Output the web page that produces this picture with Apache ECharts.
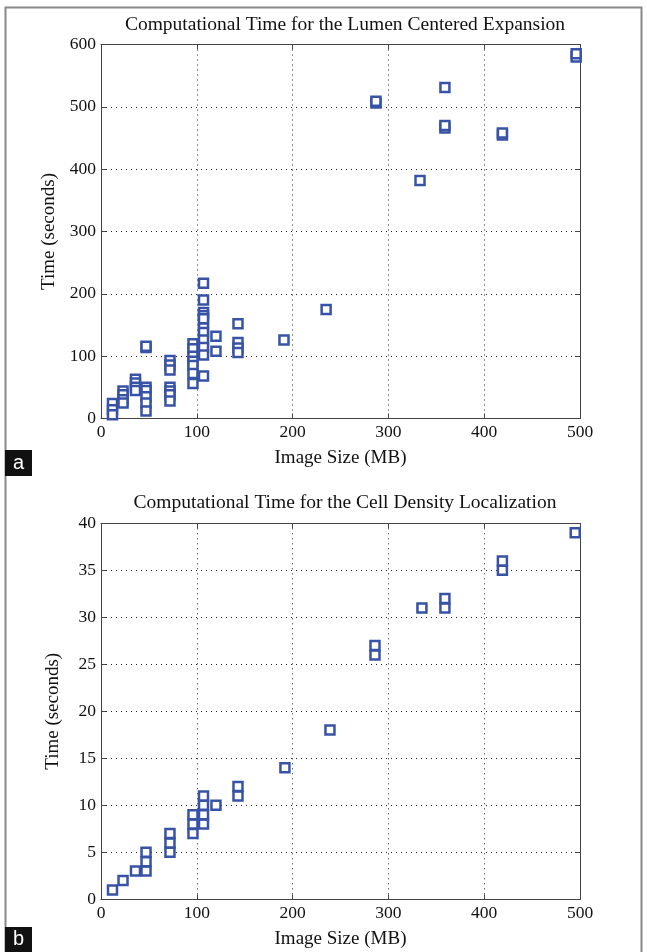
<!DOCTYPE html>
<html>
<head>
<meta charset="utf-8">
<script src="https://cdn.jsdelivr.net/npm/echarts@6/dist/echarts.min.js"></script>
<style>
html, body { margin: 0; padding: 0; background: #fff; }
#main { width: 647px; height: 952px; }
</style>
</head>
<body>
<div id="main"></div>
<script>
// panel a: lumen centered expansion
var lumenX = [12, 12, 12, 23, 23, 23, 23, 36, 36, 36, 36,
	47, 47, 47, 47, 47, 47, 47,
	72, 72, 72, 72, 72, 72, 72,
	96, 96, 96, 96, 96, 96, 96,
	107, 107, 107, 107, 107, 107, 107, 107, 107, 107, 107,
	120, 120, 143, 143, 143, 143, 191, 235,
	287, 287, 333, 359, 359, 359, 419, 419, 496, 496];
var lumenY = [24, 14, 6, 44, 38, 30, 25, 63, 57, 50, 45,
	114, 116, 50, 45, 35, 25, 12,
	93, 86, 78, 50, 44, 38, 28,
	120, 112, 100, 92, 85, 72, 56,
	217, 190, 170, 165, 160, 145, 138, 126, 114, 102, 68,
	132, 108, 152, 122, 113, 106, 126, 175,
	506, 509, 382, 531, 466, 470, 455, 458, 580, 585];

// panel b: cell density localization
var cellX = [12, 23, 36, 47, 47, 47, 72, 72, 72, 96, 96, 96,
	107, 107, 107, 107, 120, 143, 143, 192, 239,
	286, 286, 335, 359, 359, 419, 419, 495];
var cellY = [1, 2, 3, 3, 4, 5, 5, 6, 7, 7, 8, 9,
	8, 9, 10, 11, 10, 11, 12, 14, 18,
	26, 27, 31, 31, 32, 35, 36, 39];

var titles = ['Computational Time for the Lumen Centered Expansion',
	'Computational Time for the Cell Density Localization'];

function pairs(xs, ys) {
	var out = [];
	for (var i = 0; i < xs.length; i++) {
		out.push([xs[i], ys[i]]);
	}
	return out;
}

var font = 'Liberation Serif';
var blue = '#3853a6';
var dotted = { show: true, lineStyle: { color: '#222', type: [1, 4], width: 1 } };

function mainX(idx) {
	return {
		gridIndex: idx, type: 'value', min: 0, max: 500, interval: 100,
		name: 'Image Size (MB)', nameLocation: 'middle', nameGap: 30,
		nameTextStyle: { fontFamily: font, fontSize: 19, color: '#111' },
		axisLine: { show: true, onZero: false, lineStyle: { color: '#444', width: 1 } },
		axisTick: { show: true, inside: true, length: 5, lineStyle: { color: '#444' } },
		axisLabel: { fontFamily: font, fontSize: 17.5, color: '#111', margin: 5 },
		splitLine: dotted
	};
}
function mainY(idx, max, step) {
	return {
		gridIndex: idx, type: 'value', min: 0, max: max, interval: step,
		name: 'Time (seconds)', nameLocation: 'middle', nameGap: 38,
		nameTextStyle: { fontFamily: font, fontSize: 19, color: '#111' },
		axisLine: { show: true, onZero: false, lineStyle: { color: '#444', width: 1 } },
		axisTick: { show: true, inside: true, length: 5, lineStyle: { color: '#444' } },
		axisLabel: { fontFamily: font, fontSize: 17.5, color: '#111', margin: 5 },
		splitLine: dotted
	};
}
function boxX(idx) {
	return {
		gridIndex: idx, type: 'value', min: 0, max: 500, interval: 100, position: 'top',
		axisLine: { show: true, onZero: false, lineStyle: { color: '#444' } },
		axisTick: { show: true, inside: true, length: 5, lineStyle: { color: '#444' } },
		axisLabel: { show: false }, splitLine: { show: false }
	};
}
function boxY(idx, max, step) {
	return {
		gridIndex: idx, type: 'value', min: 0, max: max, interval: step, position: 'right',
		axisLine: { show: true, onZero: false, lineStyle: { color: '#444' } },
		axisTick: { show: true, inside: true, length: 5, lineStyle: { color: '#444' } },
		axisLabel: { show: false }, splitLine: { show: false }
	};
}

var markerStyle = { color: '#fff', borderColor: blue, borderWidth: 2.5, opacity: 1 };

var myChart = echarts.init(document.getElementById('main'));
myChart.setOption({
	animation: false,
	title: [{
		text: titles[0], left: 340, top: 10, textAlign: 'center',
		textStyle: { fontFamily: font, fontSize: 19.5, fontWeight: 'normal', color: '#111' }
	}, {
		text: titles[1], left: 340, top: 488, textAlign: 'center',
		textStyle: { fontFamily: font, fontSize: 19.5, fontWeight: 'normal', color: '#111' }
	}],
	grid: [
		{ left: 101, top: 44.5, width: 479, height: 374 },
		{ left: 101, top: 523.3, width: 479, height: 376 }
	],
	xAxis: [mainX(0), mainX(1), boxX(0), boxX(1)],
	yAxis: [mainY(0, 600, 100), mainY(1, 40, 5), boxY(0, 600, 100), boxY(1, 40, 5)],
	graphic: [
		{ type: 'rect', shape: { x: 5.5, y: 7.5, width: 636, height: 950 },
			style: { fill: 'none', stroke: '#888', lineWidth: 2 } },
		{ type: 'rect', shape: { x: 5, y: 450, width: 27, height: 26 }, style: { fill: '#111' } },
		{ type: 'text', x: 18.5, y: 463, style: { text: 'a', fill: '#fff', font: '20px Liberation Sans',
			textAlign: 'center', textVerticalAlign: 'middle' } },
		{ type: 'rect', shape: { x: 5, y: 927, width: 27, height: 25 }, style: { fill: '#111' } },
		{ type: 'text', x: 18.5, y: 939, style: { text: 'b', fill: '#fff', font: '20px Liberation Sans',
			textAlign: 'center', textVerticalAlign: 'middle' } }
	],
	series: [{
		type: 'scatter', xAxisIndex: 0, yAxisIndex: 0,
		symbol: 'rect', symbolSize: 9,
		itemStyle: markerStyle,
		data: pairs(lumenX, lumenY)
	}, {
		type: 'scatter', xAxisIndex: 1, yAxisIndex: 1,
		symbol: 'rect', symbolSize: 9,
		itemStyle: markerStyle,
		data: pairs(cellX, cellY)
	}]
});
</script>
</body>
</html>
